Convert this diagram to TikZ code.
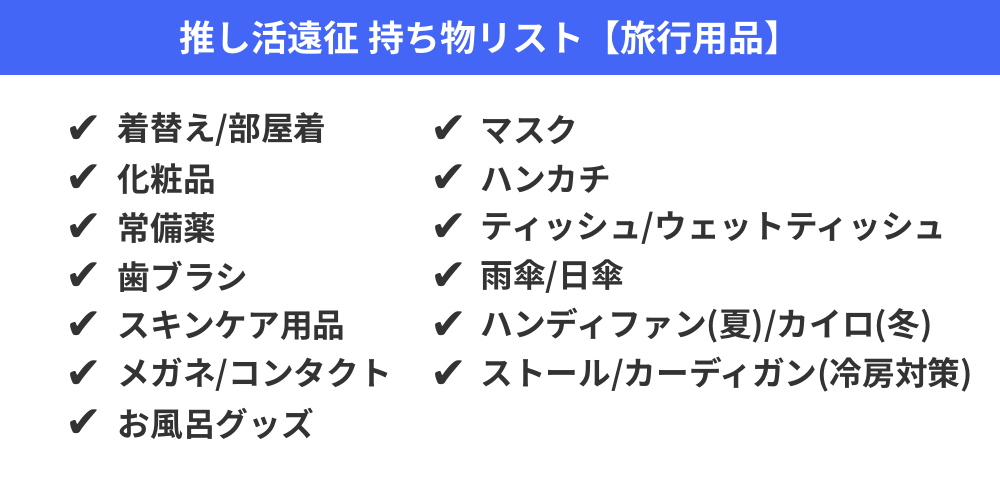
\documentclass[tikz,border=0pt]{standalone}
\usepackage{fontspec}
\newfontfamily\jpfont{Noto Sans CJK JP}[BoldFont={* Bold}]
\newfontfamily\checkfont{DejaVu Sans}
\definecolor{HeadBlue}{HTML}{4466F6}
\definecolor{TextDark}{HTML}{333333}
\usetikzlibrary{positioning}

\begin{document}
\begin{tikzpicture}[
    item/.style={anchor=west, inner sep=0pt, text=TextDark, font=\jpfont\bfseries\fontsize{18.6}{18.6}\selectfont},
    tick/.style={anchor=west, inner sep=0pt, text=TextDark, font=\checkfont\fontsize{25}{25}\selectfont}
  ]
    % Canvas
    \useasboundingbox (0,0) rectangle (20,10);
    \fill[white] (0,0) rectangle (20,10);

    % Header band
    \fill[HeadBlue] (0,8.5) rectangle (20,10);
    \node[text=white, font=\jpfont\bfseries\fontsize{20.5}{20.5}\selectfont] (title) at (9.8,9.25)
      {推し活遠征 持ち物リスト【旅行用品】};

    % Left column
    \foreach \txt [count=\i] in {着替え/部屋着, 化粧品, 常備薬, 歯ブラシ, スキンケア用品, メガネ/コンタクト, お風呂グッズ} {
        \node[tick] (lc\i) at (1.3, {7.4 - (\i-1)*0.98}) {✔};
        \node[item] (lt\i) at (2.35, {7.4 - (\i-1)*0.98}) {\txt};
    }

    % Right column
    \foreach \txt [count=\i] in {マスク, ハンカチ, ティッシュ/ウェットティッシュ, 雨傘/日傘, ハンディファン(夏)/カイロ(冬), ストール/カーディガン(冷房対策)} {
        \node[tick] (rc\i) at (8.6, {7.4 - (\i-1)*0.98}) {✔};
        \node[item] (rt\i) at (9.6, {7.4 - (\i-1)*0.98}) {\txt};
    }
\end{tikzpicture}
\end{document}
